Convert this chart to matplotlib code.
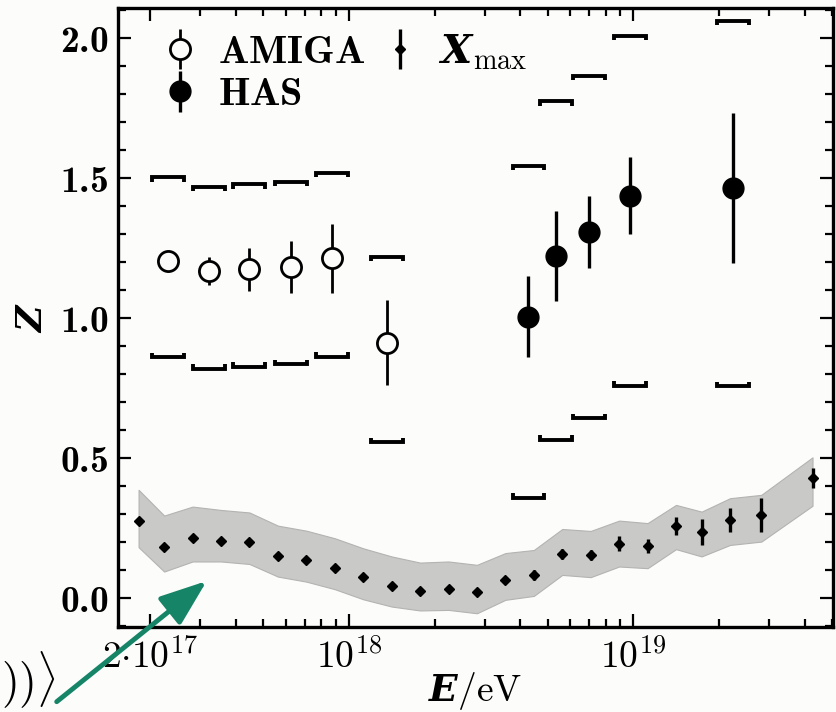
import numpy as np
import matplotlib
matplotlib.use('Agg')
import matplotlib.pyplot as plt
from matplotlib.ticker import FixedLocator, FixedFormatter, MultipleLocator, FuncFormatter, NullFormatter

plt.rcParams['mathtext.fontset'] = 'custom'
plt.rcParams['mathtext.rm'] = 'cmr10'
plt.rcParams['mathtext.it'] = 'cmmi10'
plt.rcParams['mathtext.bf'] = 'cmb10'
plt.rcParams['mathtext.bfit'] = 'DejaVu Serif:italic:bold'
plt.rcParams['axes.unicode_minus'] = False

# Xmax-derived <Z> (log10 E, value, stat error, grey band)
xmax_lg = [17.26, 17.35, 17.45, 17.55, 17.65, 17.75, 17.85, 17.95, 18.05, 18.15, 18.25, 18.35,
           18.45, 18.55, 18.65, 18.75, 18.85, 18.95, 19.05, 19.15, 19.24, 19.34, 19.45, 19.63]
xmax_z = [0.275, 0.183, 0.215, 0.204, 0.199, 0.151, 0.135, 0.106, 0.074, 0.044, 0.025, 0.031,
          0.020, 0.064, 0.082, 0.158, 0.154, 0.194, 0.186, 0.257, 0.235, 0.279, 0.295, 0.428]
xmax_err = [0.01, 0.01, 0.008, 0.008, 0.008, 0.008, 0.008, 0.008, 0.008, 0.008, 0.008, 0.01,
            0.01, 0.012, 0.018, 0.018, 0.018, 0.027, 0.026, 0.033, 0.047, 0.043, 0.06, 0.037]
band_hi = [0.386, 0.294, 0.326, 0.314, 0.305, 0.258, 0.240, 0.213, 0.177, 0.148, 0.126, 0.130,
           0.118, 0.160, 0.171, 0.246, 0.239, 0.276, 0.267, 0.332, 0.308, 0.356, 0.368, 0.502]
band_lo = [0.181, 0.094, 0.130, 0.130, 0.121, 0.076, 0.058, 0.031, -0.005, -0.031, -0.045, -0.043,
           -0.055, -0.007, 0.007, 0.082, 0.074, 0.112, 0.106, 0.174, 0.148, 0.189, 0.201, 0.329]

# AMIGA
amiga_lg = [17.364, 17.508, 17.647, 17.795, 17.939, 18.133]
amiga_z = [1.204, 1.166, 1.174, 1.183, 1.213, 0.912]
amiga_err = [0.015, 0.05, 0.077, 0.093, 0.124, 0.152]
amiga_sys_hi = [1.502, 1.469, 1.477, 1.487, 1.519, 1.219]
amiga_sys_lo = [0.860, 0.818, 0.826, 0.834, 0.862, 0.555]

# HAS
has_lg = [18.631, 18.727, 18.844, 18.988, 19.350]
has_z = [1.005, 1.221, 1.308, 1.437, 1.463]
has_err = [0.145, 0.16, 0.128, 0.137, 0.268]
has_sys_hi = [1.544, 1.773, 1.864, 2.007, 2.061]
has_sys_lo = [0.358, 0.564, 0.642, 0.757, 0.755]

bg = '#fcfcfa'


def brackets(ax, lg, vals, up, hw=0.056, h=0.016):
    # systematic bracket: horizontal bar with small end ticks
    for l, v in zip(lg, vals):
        x0, x1 = 10 ** (l - hw), 10 ** (l + hw)
        d = -h if up else h
        ax.plot([x0, x0, x1, x1], [v + d, v, v, v + d], color='black', lw=2.8,
                solid_joinstyle='miter', solid_capstyle='butt', zorder=3)


fig = plt.figure(figsize=(8.36, 7.12), dpi=100, facecolor=bg)
ax = fig.add_axes([0.1411, 0.1194, 0.8553, 0.8694], facecolor=bg)

E = lambda lg: 10 ** np.array(lg)

ax.fill_between(E(xmax_lg), band_lo, band_hi, facecolor='#c9cac7', edgecolor='#b3b4b1', lw=0.8, zorder=1)
h_x = ax.errorbar(E(xmax_lg), xmax_z, yerr=xmax_err, fmt='D', color='black', ms=5.5,
                  elinewidth=2.4, capsize=0, zorder=4)

brackets(ax, amiga_lg, amiga_sys_hi, True)
brackets(ax, amiga_lg, amiga_sys_lo, False)
brackets(ax, has_lg, has_sys_hi, True)
brackets(ax, has_lg, has_sys_lo, False)

h_a = ax.errorbar(E(amiga_lg), amiga_z, yerr=amiga_err, fmt='o', color='black', mfc=bg, mec='black',
                  ms=14.5, mew=2.0, elinewidth=2.0, capsize=0, zorder=5)
h_h = ax.errorbar(E(has_lg), has_z, yerr=has_err, fmt='o', color='black', ms=15,
                  elinewidth=2.4, capsize=0, zorder=5)

ax.set_xscale('log')
ax.set_xlim(10 ** 17.1875, 10 ** 19.702)
ax.set_ylim(-0.104, 2.107)

ax.xaxis.set_major_locator(FixedLocator([2e17, 1e18, 1e19]))
ax.xaxis.set_major_formatter(FixedFormatter([r'$2{\cdot}10^{17}$', r'$10^{18}$', r'$10^{19}$']))
minors = [float(m) * 10.0 ** k for k in (17, 18, 19) for m in range(3 if k == 17 else 2, 10)]
minors = [v for v in minors if v < 10 ** 19.7]
ax.xaxis.set_minor_locator(FixedLocator(minors))
ax.xaxis.set_minor_formatter(NullFormatter())

ax.yaxis.set_major_locator(MultipleLocator(0.5))
ax.yaxis.set_minor_locator(MultipleLocator(0.1))
ax.yaxis.set_major_formatter(FuncFormatter(lambda v, p: r'$\mathbf{%.1f}$' % v))

ax.tick_params(which='both', direction='in', top=True, right=True, width=1.6, colors='black')
ax.tick_params(which='major', length=9.5)
ax.tick_params(which='minor', length=6)
ax.tick_params(axis='y', which='major', labelsize=27, pad=7)
ax.tick_params(axis='x', which='major', labelsize=27, pad=9)
for s in ax.spines.values():
    s.set_linewidth(2.4)

ax.set_ylabel(r'$\mathbfit{Z}$', fontsize=26, labelpad=8)
ax.set_xlabel(r'$\mathbfit{E}/\mathrm{eV}$', fontsize=27, labelpad=-4)

leg = ax.legend([h_a, h_h, h_x], [r'$\mathbf{AMIGA}$', r'$\mathbf{HAS}$', r'$\mathbfit{X}_{\mathrm{max}}$'],
                ncol=2, loc='upper left', bbox_to_anchor=(0.025, 1.006), frameon=False, fontsize=29,
                handlelength=0.8, handletextpad=0.55, columnspacing=0.45, labelspacing=0.05,
                borderaxespad=0.3)

# stray bits at the lower-left corner of the screenshot
fig.text(0.001, 0.003, r'$))\rangle$', fontsize=33, ha='left', va='bottom')
ax.annotate('', xy=(206.7, 131), xytext=(56.7, 10.3), xycoords='figure pixels', textcoords='figure pixels',
            annotation_clip=False, zorder=10,
            arrowprops=dict(arrowstyle='-|>,head_length=0.8,head_width=0.3', mutation_scale=36,
                            color='#168466', lw=3.5, shrinkA=0, shrinkB=0))

plt.savefig('out.png', dpi=100, facecolor=bg)
